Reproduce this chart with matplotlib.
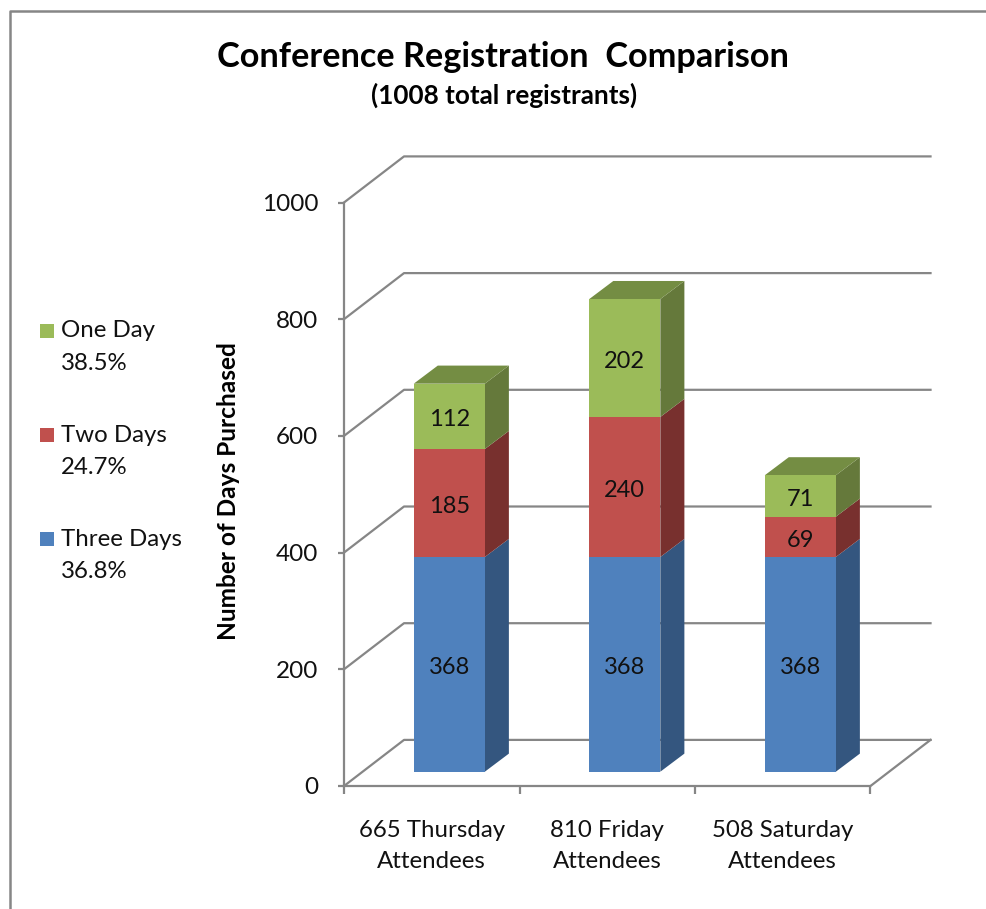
import matplotlib
matplotlib.use("Agg")
import matplotlib.pyplot as plt
from matplotlib.lines import Line2D
from matplotlib.patches import Polygon, Rectangle
import numpy as np

plt.rcParams['font.family'] = ['Lato', 'DejaVu Sans']

categories = ["665 Thursday\nAttendees", "810 Friday\nAttendees", "508 Saturday\nAttendees"]
three_days = [368, 368, 368]
two_days = [185, 240, 69]
one_day = [112, 202, 71]
yticks = [0, 200, 400, 600, 800, 1000]
legend_labels = ["One Day\n38.5%", "Two Days\n24.7%", "Three Days\n36.8%"]

W, H = 987, 909
GRID = "#868686"
FRONT = ["#4F81BD", "#C0504D", "#9BBB59"]
SIDE = ["#34567F", "#78302E", "#65793B"]
TOP = "#748D43"
TXT = "#111111"

# depth of the fake 3d box and of the bars, in data units
WALL_DX, WALL_DY = 0.342, 79
BAR_DX, BAR_DY = 0.137, 31
BAR_W = 0.405
BAR_BASE = 24.5

fig = plt.figure(figsize=(W / 100, H / 100), dpi=100)
ax = fig.add_axes([344 / W, 1 - 786 / H, 526.5 / W, 583.5 / H])
ax.set_xlim(0, 3)
ax.set_ylim(0, 1000)
ax.patch.set_alpha(0)

# walls
for v in yticks:
    ax.plot([0, WALL_DX, 3 + WALL_DX], [v, v + WALL_DY, v + WALL_DY], color=GRID, lw=1.6,
            clip_on=False, zorder=1)
ax.plot([3, 3 + WALL_DX], [0, WALL_DY], color=GRID, lw=1.6, clip_on=False, zorder=1)

# bars
xpos = np.arange(3) + 0.6
base = np.full(3, BAR_BASE)
for vals, front, side in zip([three_days, two_days, one_day], FRONT, SIDE):
    vals = np.array(vals)
    ax.bar(xpos, vals, BAR_W, bottom=base, color=front, zorder=3)
    for x, b, v in zip(xpos, base, vals):
        r = x + BAR_W / 2
        ax.add_patch(Polygon([(r, b), (r + BAR_DX, b + BAR_DY), (r + BAR_DX, b + v + BAR_DY), (r, b + v)],
                             closed=True, fc=side, ec="none", zorder=2.5, clip_on=False))
        ax.text(x, b + v / 2 - 6, str(v), ha="center", va="center", fontsize=17, color=TXT, zorder=4)
    base = base + vals
for x, t in zip(xpos, base):
    l, r = x - BAR_W / 2, x + BAR_W / 2
    ax.add_patch(Polygon([(l, t), (l + BAR_DX, t + BAR_DY), (r + BAR_DX, t + BAR_DY), (r, t)],
                         closed=True, fc=TOP, ec="none", zorder=2.6, clip_on=False))

# axes
for s in ["top", "right"]:
    ax.spines[s].set_visible(False)
for s in ["left", "bottom"]:
    ax.spines[s].set_color(GRID)
    ax.spines[s].set_linewidth(1.6)
ax.set_yticks(yticks)
ax.tick_params(axis="y", length=4, width=1.6, color=GRID, labelsize=17.5, labelcolor=TXT, pad=14.5)
ax.set_xticks([0, 1, 2, 3])
ax.set_xticklabels([])
ax.set_xticks([0.5, 1.5, 2.5], minor=True)
ax.set_xticklabels(categories, minor=True, fontsize=17.3, color=TXT, linespacing=1.6)
ax.tick_params(axis="x", which="major", length=6, width=1.6, color=GRID)
ax.tick_params(axis="x", which="minor", length=0, pad=24.5)

fig.text(229 / W, 1 - 491 / H, "Number of Days Purchased", rotation=90, ha="center", va="center",
         fontsize=17.6, fontweight="bold", color="black")
fig.text(503 / W, 1 - 57 / H, "Conference Registration  Comparison", ha="center", va="center",
         fontsize=24.7, fontweight="bold", color="black")
fig.text(504 / W, 1 - 95 / H, "(1008 total registrants)", ha="center", va="center",
         fontsize=18.8, fontweight="bold", color="black")

# legend by hand, the square has to sit on the first line of each label
for i, (label, col) in enumerate(zip(legend_labels, FRONT[::-1])):
    y0 = 331 + 104 * i
    fig.add_artist(Rectangle((40 / W, 1 - (y0 + 7) / H), 14 / W, 14 / H, transform=fig.transFigure,
                             fc=col, ec="none"))
    for j, part in enumerate(label.split("\n")):
        fig.text(61 / W, 1 - (y0 + 32 * j) / H, part, ha="left", va="center", fontsize=17.3, color=TXT)

# chart frame, cut by the picture on the right and bottom
fig.add_artist(Line2D([10.5 / W, 10.5 / W, 1], [0, 1 - 10.5 / H, 1 - 10.5 / H], color=GRID, lw=1.8))

fig.savefig("out.png", dpi=100)
